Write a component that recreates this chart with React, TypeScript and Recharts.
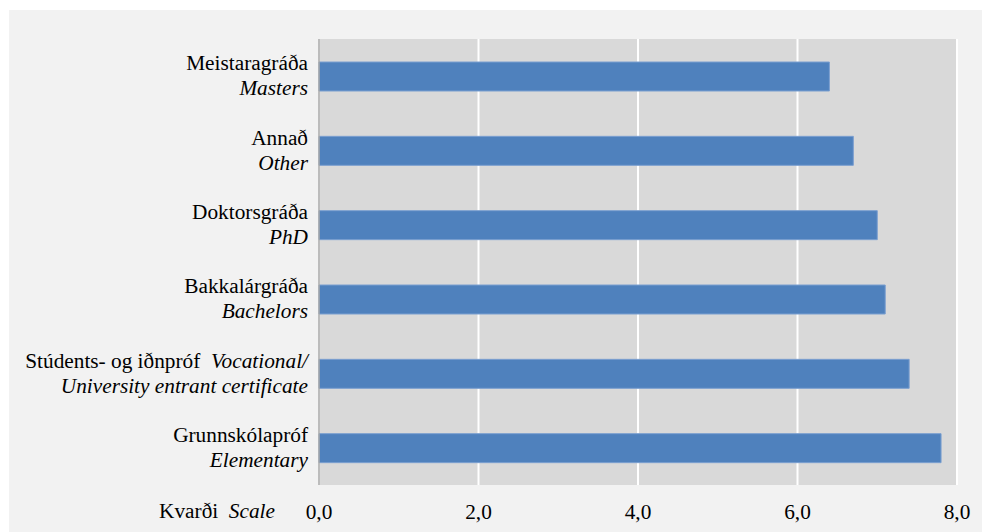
import React from 'react';
import { BarChart, Bar, XAxis, YAxis, CartesianGrid } from 'recharts';

// Education levels, top to bottom
const levelsIs = ['Meistaragráða', 'Annað', 'Doktorsgráða', 'Bakkalárgráða', 'Stúdents- og iðnpróf', 'Grunnskólapróf'];
const levelsEn = ['Masters', 'Other', 'PhD', 'Bachelors', 'Vocational/ University entrant certificate', 'Elementary'];
const scores = [6.4, 6.7, 7.0, 7.1, 7.4, 7.8];
const xTicks = [0, 2, 4, 6, 8];

const FONT = "'Liberation Serif', 'Times New Roman', serif";
const FONT_SIZE = 21.3;
const textStyle: React.CSSProperties = { fontFamily: FONT, fontSize: FONT_SIZE };

const data = levelsIs.map((name, i) => ({ key: String(i), name, en: levelsEn[i], score: scores[i] }));

const fmt = (v: number) => v.toFixed(1).replace('.', ',');

const LevelTick = (props: any) => {
  const { x, y, payload } = props;
  const i = Number(payload.value);
  const is = levelsIs[i];
  const en = levelsEn[i];
  const tx = x - 3;
  // long english labels wrap: first part goes on the icelandic line
  const split = en.indexOf('/ ');
  const enHead = split >= 0 ? en.slice(0, split + 1) : '';
  const enTail = split >= 0 ? en.slice(split + 2) : en;
  return (
    <g>
      <text x={tx} y={y - 6} textAnchor="end" fontFamily={FONT} style={textStyle} fill="#000">
        {is}
        {enHead && <tspan fontStyle="italic">{'\u00a0\u00a0' + enHead}</tspan>}
      </text>
      <text x={tx} y={y + 19} textAnchor="end" fontFamily={FONT} style={{ ...textStyle, fontStyle: 'italic' }} fill="#000">
        {enTail}
      </text>
    </g>
  );
};

const ScaleTick = (props: any) => {
  const { x, y, payload } = props;
  return (
    <text x={x} y={y} textAnchor="middle" fontFamily={FONT} style={textStyle} fill="#000">
      {fmt(payload.value)}
    </text>
  );
};

const ScaleLabel = (props: any) => {
  const { viewBox } = props;
  return (
    <text x={viewBox.x - 44} y={viewBox.y + 33} textAnchor="end" fontFamily={FONT} style={textStyle} fill="#000">
      Kvarði
      <tspan fontStyle="italic">{'\u00a0\u00a0Scale'}</tspan>
    </text>
  );
};

export default function App() {
  return (
    <div style={{ position: 'fixed', left: 9, top: 10, width: 973, height: 522, background: '#f2f2f2' }}>
      <BarChart
        width={973}
        height={522}
        data={data}
        layout="vertical"
        margin={{ top: 29, right: 25, bottom: 17, left: 0 }}
        barSize={29}
      >
        <CartesianGrid horizontal={false} vertical stroke="#ffffff" strokeWidth={2} fill="#d9d9d9" />
        <XAxis
          type="number"
          domain={[0, 8]}
          ticks={xTicks}
          axisLine={false}
          tickLine={false}
          height={30}
          tick={(p: any) => <ScaleTick {...p} y={p.y + 26} />}
          label={<ScaleLabel />}
        />
        <YAxis
          type="category"
          dataKey="key"
          width={310}
          axisLine={{ stroke: '#a6a6a6', strokeWidth: 1.5 }}
          tickLine={false}
          tick={<LevelTick />}
          interval={0}
        />
        <Bar dataKey="score" fill="#4f81bd" stroke="#7b9fd0" strokeWidth={1} isAnimationActive={false} />
      </BarChart>
    </div>
  );
}
